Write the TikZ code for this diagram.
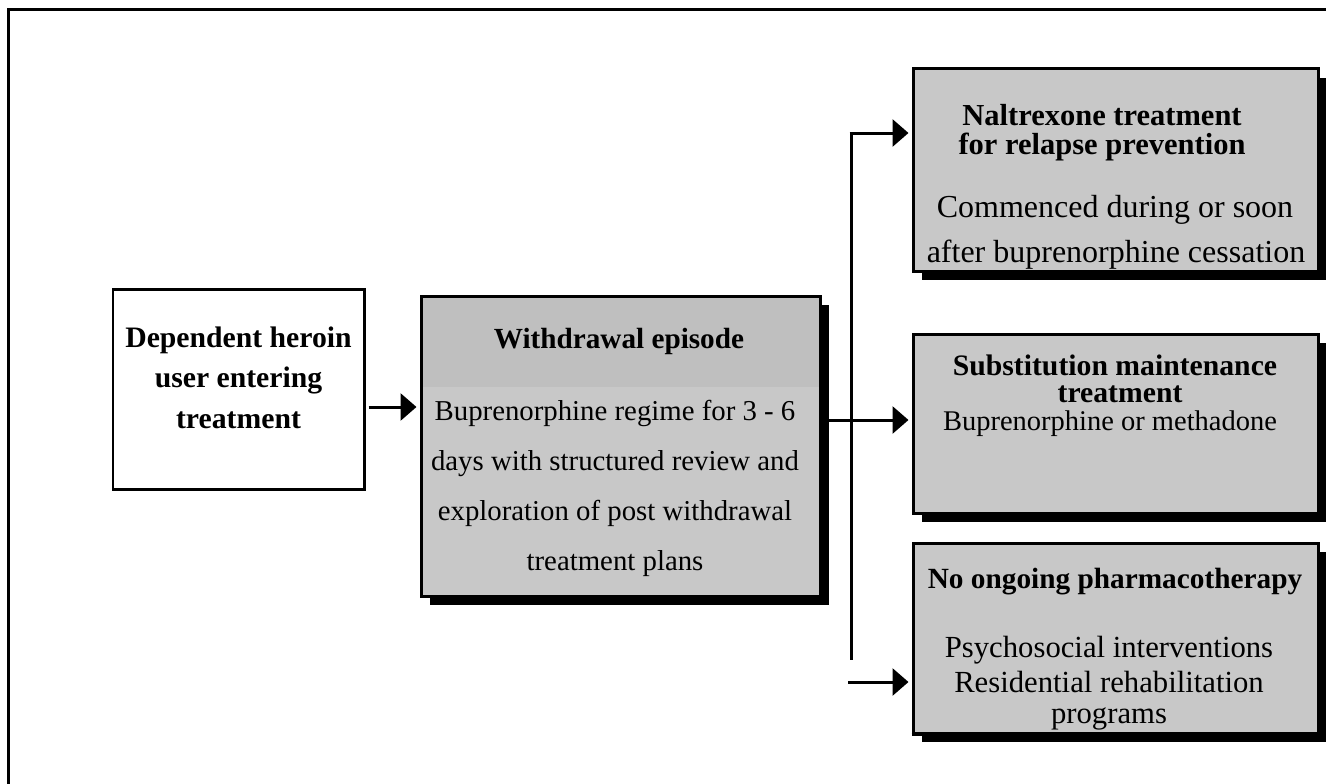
\documentclass[tikz,border=0pt]{standalone}
\usepackage{fontspec}
\setmainfont{Liberation Serif}
\usetikzlibrary{arrows.meta,shadows}
\definecolor{panelgray}{RGB}{200,200,200}
\definecolor{panelhead}{RGB}{191,191,191}
\begin{document}
\begin{tikzpicture}[x=1pt,y=-1pt,
  frameline/.style={line width=3pt},
  plainbox/.style={draw, line width=2.3pt, inner sep=0pt},
  greybox/.style={draw, line width=3pt, fill=panelgray, inner sep=0pt,
    drop shadow={shadow xshift=9pt, shadow yshift=-9pt, fill=black, opacity=1}},
  txt/.style={anchor=base, inner sep=0pt},
  link/.style={line width=3pt},
  linkarrow/.style={link, -{Triangle[length=16pt,width=27pt]}, shorten >=3pt}
]
\useasboundingbox (0,0) rectangle (1326,784);

% page frame (top and left rules)
\draw[frameline] (1326,10) -- (8,10) -- (8,784);

% boxes
\node[plainbox, minimum width=251.5pt, minimum height=200pt] (entry) at (238.75,389.5) {};
\node[greybox, minimum width=399pt, minimum height=300pt,
  path picture={\fill[panelhead] (path picture bounding box.north west)
    rectangle ([yshift=-91pt]path picture bounding box.north east);}] (wd) at (620.5,446) {};
\node[greybox, minimum width=405pt, minimum height=202pt] (nal) at (1115.5,170) {};
\node[greybox, minimum width=405pt, minimum height=179pt] (sub) at (1115.5,423.5) {};
\node[greybox, minimum width=405pt, minimum height=190pt] (none) at (1115.5,638) {};

% entry box text
\begin{scope}[every node/.style={txt, font=\bfseries\fontsize{29.7}{32}\selectfont}]
  \node (e1) at (238.5,347) {Dependent heroin};
  \node (e2) at (238.5,387) {user entering};
  \node (e3) at (238.5,428) {treatment};
\end{scope}

% withdrawal episode text
\node[txt, font=\bfseries\fontsize{29.2}{32}\selectfont] (w0) at (619,348) {Withdrawal episode};
\begin{scope}[every node/.style={txt, font=\fontsize{28.8}{32}\selectfont}]
  \node (w1) at (615,420) {Buprenorphine regime for 3 - 6};
  \node (w2) at (615,470) {days with structured review and};
  \node (w3) at (615,520) {exploration of post withdrawal};
  \node (w4) at (615,570) {treatment plans};
\end{scope}

% naltrexone text
\begin{scope}[every node/.style={txt, font=\bfseries\fontsize{30.5}{32}\selectfont}]
  \node (n1) at (1102,125) {Naltrexone treatment};
  \node (n2) at (1102,154) {for relapse prevention};
\end{scope}
\begin{scope}[every node/.style={txt, font=\fontsize{32}{34}\selectfont}]
  \node (n3) at (1115,217) {Commenced during or soon};
  \node (n4) at (1116,262) {after buprenorphine cessation};
\end{scope}

% substitution text
\begin{scope}[every node/.style={txt, font=\bfseries\fontsize{29.7}{32}\selectfont}]
  \node (s1) at (1115,375) {Substitution maintenance};
  \node (s2) at (1120,402) {treatment};
\end{scope}
\node[txt, font=\fontsize{28.5}{32}\selectfont] (s3) at (1110,430) {Buprenorphine or methadone};

% no pharmacotherapy text
\node[txt, font=\bfseries\fontsize{29.3}{32}\selectfont] (p1) at (1115,588) {No ongoing pharmacotherapy};
\begin{scope}[every node/.style={txt, font=\fontsize{30.7}{32}\selectfont}]
  \node (p2) at (1109,657) {Psychosocial interventions};
  \node (p3) at (1109,692) {Residential rehabilitation};
  \node (p4) at (1109,723) {programs};
\end{scope}
% redraw lower border over the last line
\draw[line width=3pt] (none.south west) -- (none.south east);

% connectors
\coordinate (inY) at (0,407);
\coordinate (midY) at (0,420);
\coordinate (busTop) at (851,133);
\coordinate (busEnd) at (851,660);
\coordinate (lowStart) at (848,682);

\draw[linkarrow] ([xshift=3pt]entry.east |- inY) -- (wd.west |- inY);
\draw[link] (busTop) -- (busEnd);
\draw[linkarrow] ([xshift=-1.5pt]busTop) -- (nal.west |- busTop);
\draw[linkarrow] (wd.east |- midY) -- (sub.west |- midY);
\draw[linkarrow] (lowStart) -- (none.west |- lowStart);
\end{tikzpicture}
\end{document}
